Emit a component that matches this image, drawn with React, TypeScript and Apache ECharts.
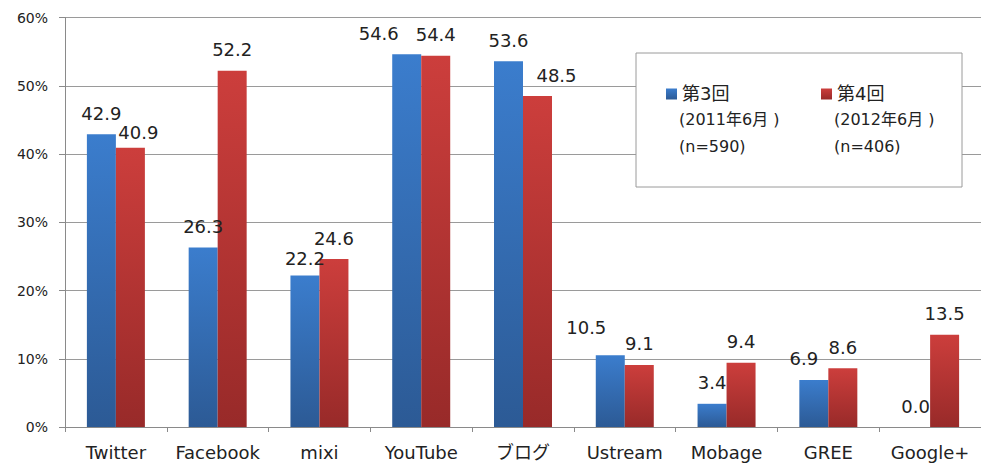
import React, { useEffect, useRef } from "react";
import * as echarts from "echarts";

const categories = ["Twitter", "Facebook", "mixi", "YouTube", "ブログ", "Ustream", "Mobage", "GREE", "Google+"];
const round3Values = [42.9, 26.3, 22.2, 54.6, 53.6, 10.5, 3.4, 6.9, 0.0];
const round4Values = [40.9, 52.2, 24.6, 54.4, 48.5, 9.1, 9.4, 8.6, 13.5];
const yTicks = [0, 10, 20, 30, 40, 50, 60];
const seriesNames = ["第3回", "第4回"];
const legendSubLines = [
  ["(2011年6月 )", "(n=590)"],
  ["(2012年6月 )", "(n=406)"],
];

// small label nudges (style), keyed by category
const labelNudge3: Record<string, [number, number]> = {
  YouTube: [-28, 0],
  Ustream: [-24, -7],
  GREE: [-10, 0],
  mixi: [0, 4],
};
const labelNudge4: Record<string, [number, number]> = {
  Twitter: [8, 6],
  "ブログ": [19, 0],
};

const FONT = "'DejaVu Sans', 'Noto Sans CJK JP', sans-serif";
const TEXT = "#222";

export default function App() {
  const ref = useRef<HTMLDivElement>(null);
  useEffect(() => {
    if (!ref.current) return;
    const chart = echarts.init(ref.current, null, { renderer: "svg" });
    const blue = new echarts.graphic.LinearGradient(0, 0, 0, 1, [
      { offset: 0, color: "#3b7dcd" },
      { offset: 1, color: "#2c5a95" },
    ]);
    const red = new echarts.graphic.LinearGradient(0, 0, 0, 1, [
      { offset: 0, color: "#cc3e3c" },
      { offset: 1, color: "#982a29" },
    ]);
    const mk = (vals: number[], nudge: Record<string, [number, number]>) =>
      vals.map((v, i) => {
        const n = nudge[categories[i]];
        return n ? { value: v, label: { offset: n } } : { value: v };
      });
    const labelCommon = {
      show: true,
      position: "top" as const,
      distance: 12,
      fontSize: 18,
      fontFamily: FONT,
      color: TEXT,
      formatter: (p: any) => Number(p.value).toFixed(1),
    };
    chart.setOption({
      animation: false,
      textStyle: { fontFamily: FONT },
      grid: { left: 65, right: -8, top: 17.5, bottom: 38 },
      xAxis: {
        type: "category",
        data: categories,
        axisLine: { lineStyle: { color: "#8a8a8a" } },
        axisTick: { show: true, length: 5, lineStyle: { color: "#8a8a8a" } },
        axisLabel: { interval: 0, fontSize: 18, color: TEXT, margin: 16, fontFamily: FONT },
      },
      yAxis: {
        type: "value",
        min: yTicks[0],
        max: yTicks[yTicks.length - 1],
        interval: 10,
        axisLine: { show: true, lineStyle: { color: "#8a8a8a" } },
        axisTick: { show: true, length: 6, lineStyle: { color: "#8a8a8a" } },
        splitLine: { lineStyle: { color: "#9a9a9a" } },
        axisLabel: { formatter: "{value}%", fontSize: 14, color: TEXT, margin: 17, fontFamily: FONT },
      },
      legend: [
        {
          data: [seriesNames[0]],
          left: 661,
          top: 80,
          itemWidth: 11,
          itemHeight: 11,
          icon: "rect",
          z: 10,
          textStyle: { fontSize: 18, color: TEXT, fontFamily: FONT },
        },
        {
          data: [seriesNames[1]],
          left: 816,
          top: 80,
          itemWidth: 11,
          itemHeight: 11,
          icon: "rect",
          z: 10,
          textStyle: { fontSize: 18, color: TEXT, fontFamily: FONT },
        },
      ],
      graphic: [
        {
          type: "rect",
          z: 5,
          shape: { x: 636, y: 53, width: 326, height: 134 },
          style: { fill: "#fff", stroke: "#9a9a9a", lineWidth: 1 },
        },
        ...legendSubLines.flatMap((lines, si) =>
          lines.map((t, li) => ({
            type: "text",
            z: 10,
            x: si === 0 ? 679 : 834,
            y: 119 + li * 27,
            style: {
              text: t,
              fontSize: 16,
              fontFamily: FONT,
              fill: TEXT,
              verticalAlign: "middle",
            },
          }))
        ),
      ],
      series: [
        {
          name: seriesNames[0],
          type: "bar",
          data: mk(round3Values, labelNudge3),
          barWidth: 29,
          barGap: "0%",
          itemStyle: { color: blue },
          label: labelCommon,
        },
        {
          name: seriesNames[1],
          type: "bar",
          data: mk(round4Values, labelNudge4),
          barWidth: 29,
          barGap: "0%",
          itemStyle: { color: red },
          label: labelCommon,
        },
      ],
    });
    return () => chart.dispose();
  }, []);
  return (
    <div
      ref={ref}
      style={{ position: "fixed", left: 0, top: 0, width: 981, height: 465, background: "#fff" }}
    />
  );
}
